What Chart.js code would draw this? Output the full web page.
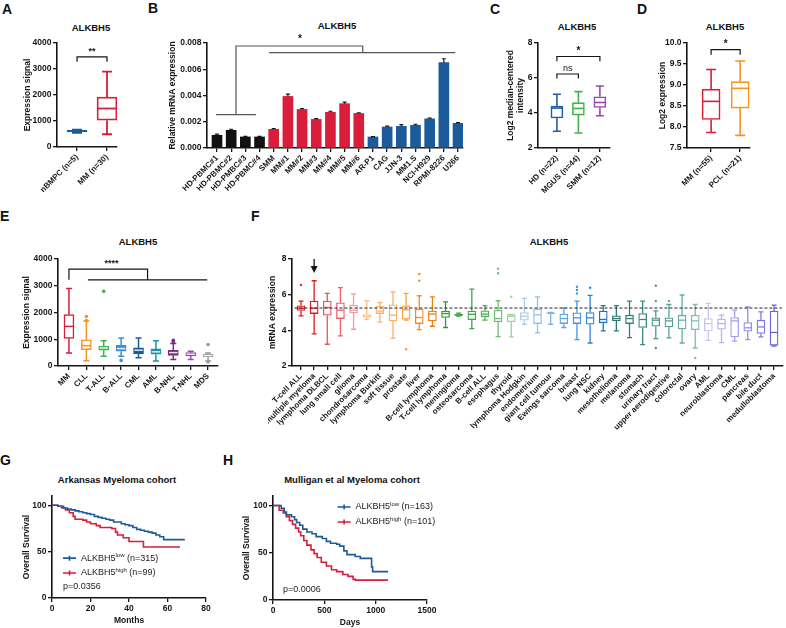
<!DOCTYPE html>
<html>
<head>
<meta charset="utf-8">
<script src="https://cdn.jsdelivr.net/npm/chart.js@4.4.1/dist/chart.umd.min.js"></script>
<style>
body { margin: 0; background: #fff; }
#page { position: relative; width: 786px; height: 628px; overflow: hidden; font-family: 'Liberation Sans', Arial, sans-serif; color: #111; }
.lab { position: absolute; font-weight: bold; font-size: 14px; line-height: 14px; }
.ttl { position: absolute; font-weight: bold; font-size: 9.5px; line-height: 10px; transform: translate(-50%, -50%); white-space: nowrap; }
canvas { position: absolute; }
</style>
</head>
<body>
<div id="page"></div>
<script>
const FONT = "'Liberation Sans', Arial, sans-serif";
const INK = '#151515';
const RED = '#d81e3a', BLUE = '#1c5b9b', ORANGE = '#f7941d', GREEN = '#3db54a', PURPLE = '#9b45b5';

// ---------- A: nBMPC vs MM ----------
const aCats = ['nBMPC (n=5)', 'MM (n=30)'];
const aMin = [545, 490];
const aQ1 = [585, 1030];
const aMed = [610, 1480];
const aQ3 = [640, 1920];
const aMax = [665, 2900];
const aTicks = [0, 1000, 2000, 3000, 4000];

// ---------- B: qPCR ----------
const bCats = ['HD-PBMC#1', 'HD-PBMC#2', 'HD-PMBC#3', 'HD-PBMC#4', 'SMM', 'MM#1', 'MM#2', 'MM#3', 'MM#4', 'MM#5', 'MM#6',
  'AR-P1', 'CAG', 'JJN-3', 'MM1.S', 'NCI-H929', 'RPMI-8226', 'U266'];
const bVals = [0.00097, 0.00135, 0.00084, 0.00084, 0.00142, 0.00393, 0.00294, 0.00218, 0.00272, 0.00338, 0.00263,
  0.00084, 0.0016, 0.00165, 0.00173, 0.00222, 0.0065, 0.00188];
const bErr = [0.00009, 0.00008, 0.00005, 0.00005, 0.00005, 0.00018, 0.00007, 0.00006, 0.00008, 0.00012, 0.00005,
  0.00003, 0.00006, 0.00013, 0.00008, 0.00006, 0.0003, 0.00005];
const bTicks = [0, 0.002, 0.004, 0.006, 0.008];

// ---------- C: HD / MGUS / SMM ----------
const cCats = ['HD (n=22)', 'MGUS (n=44)', 'SMM (n=12)'];
const cMin = [2.96, 2.86, 3.84];
const cQ1 = [3.72, 3.88, 4.32];
const cMed = [4.28, 4.26, 4.6];
const cQ3 = [4.39, 4.59, 4.93];
const cMax = [5.07, 5.22, 5.54];
const cTicks = [2, 4, 6, 8];

// ---------- D: MM / PCL ----------
const dCats = ['MM (n=55)', 'PCL (n=21)'];
const dMin = [7.87, 7.8];
const dQ1 = [8.18, 8.45];
const dMed = [8.61, 8.92];
const dQ3 = [8.9, 9.08];
const dMax = [9.37, 9.57];
const dTicks = [7.5, 8.0, 8.5, 9.0, 9.5, 10.0];

// ---------- E: hematologic malignancies ----------
const eCats = ['MM', 'CLL', 'T-ALL', 'B-ALL', 'CML', 'AML', 'B-NHL', 'T-NHL', 'MDS'];
const eMin = [490, 200, 360, 360, 310, 190, 240, 240, 190];
const eQ1 = [1030, 615, 590, 550, 465, 440, 400, 375, 340];
const eMed = [1480, 760, 675, 650, 590, 530, 500, 440, 390];
const eQ3 = [1920, 980, 740, 775, 675, 640, 590, 500, 440];
const eMax = [2900, 1680, 940, 1050, 1050, 940, 840, 550, 490];
const eOutIdx = [1, 1, 2, 3, 6, 6, 8, 8];
const eOutVal = [1850, 1700, 2790, 210, 960, 900, 800, 150];
const eColors = [RED, ORANGE, GREEN, '#3a8fdd', BLUE, '#1a93a8', '#7a2d80', PURPLE, '#9a9a9a'];

// ---------- F: cancer cell lines ----------
const fCats = ['T-cell ALL', 'multiple myeloma', 'lymphoma DLBCL', 'lung small cell', 'glioma', 'chondrosarcoma',
  'lymphoma Burkitt', 'soft tissue', 'prostate', 'liver', 'B-cell lymphoma', 'T-cell lymphoma', 'meningioma',
  'osteosarcoma', 'B-cell ALL', 'esophagus', 'thyroid', 'lymphoma Hodgkin', 'endometrium', 'giant cell tumour',
  'Ewings sarcoma', 'breast', 'lung NSC', 'kidney', 'mesothelioma', 'melanoma', 'stomach', 'urinary tract',
  'upper aerodigestive', 'colorectal', 'ovary', 'AML', 'neuroblastoma', 'CML', 'pancreas', 'bile duct', 'medulloblastoma'];
const fMin = [4.81, 3.80, 3.22, 3.69, 4.06, 4.61, 4.46, 3.56, 4.57, 4.04, 4.23, 4.16, 4.80, 4.10, 4.57, 3.65, 3.63, 4.34,
  3.86, 4.34, 4.16, 3.48, 3.29, 3.97, 3.97, 3.59, 3.20, 3.54, 3.58, 3.29, 3.01, 3.44, 3.31, 3.39, 3.48, 3.63, 3.11];
const fQ1 = [5.11, 4.94, 4.85, 4.66, 4.98, 4.74, 4.94, 4.53, 4.63, 4.38, 4.53, 4.72, 4.83, 4.60, 4.76, 4.48, 4.49, 4.57,
  4.38, 4.93, 4.38, 4.38, 4.34, 4.42, 4.53, 4.38, 4.16, 4.23, 4.19, 4.08, 4.04, 3.97, 4.06, 3.63, 3.95, 3.82, 3.16];
const fMed = [5.24, 5.24, 5.28, 5.13, 5.13, 4.79, 5.08, 4.85, 5.15, 4.72, 4.91, 4.94, 4.86, 4.90, 4.91, 4.66, 4.79, 4.79,
  4.87, 4.96, 4.66, 4.70, 4.70, 4.61, 4.66, 4.66, 4.61, 4.57, 4.53, 4.57, 4.53, 4.38, 4.38, 4.53, 4.14, 4.19, 3.88];
const fQ3 = [5.38, 5.64, 5.64, 5.54, 5.41, 4.89, 5.36, 5.43, 5.38, 5.19, 5.08, 5.08, 4.90, 5.08, 5.09, 5.13, 4.89, 5.00,
  5.19, 4.98, 4.91, 4.98, 5.00, 5.08, 4.81, 4.85, 4.94, 4.70, 4.70, 4.85, 4.85, 4.66, 4.63, 4.72, 4.44, 4.57, 5.08];
const fMax = [5.64, 6.78, 6.07, 6.39, 6.05, 5.66, 5.56, 6.16, 6.07, 5.94, 5.88, 5.60, 4.96, 6.31, 5.38, 5.66, 4.90, 5.79,
  5.88, 5.00, 5.26, 5.64, 5.96, 5.38, 5.39, 5.64, 5.64, 5.09, 5.45, 5.98, 5.45, 5.51, 4.85, 5.13, 5.32, 5.04, 5.41];
const fOutIdx = [0, 8, 9, 9, 15, 15, 16, 21, 21, 21, 22, 27, 27, 27, 28, 30];
const fOutVal = [6.55, 2.94, 7.16, 6.78, 7.46, 7.2, 5.88, 6.44, 6.26, 6.07, 6.39, 6.5, 5.64, 3.01, 5.64, 2.45];
const fRef = 5.25;
const fColors = ['#e31a1c', '#e31a1c', '#f0505a', '#ef5f6c', '#f49aa3', '#fdc08a', '#fdb46b', '#fcae63', '#f99d3a',
  '#f68b1f', '#f07f12', '#2c9b3b', '#35a043', '#3aaa45', '#48b050', '#6cc070', '#9ad49a', '#a9cdf0', '#8fbff0',
  '#78b2ec', '#5fa3e6', '#4592de', '#2f83d8', '#1f70cc', '#2c7a73', '#357f78', '#3e8a82', '#4a968d', '#58a199',
  '#66aca4', '#7ebcb4', '#c9c5f2', '#b8b2ef', '#a79fec', '#958dea', '#8179e8', '#6b62e4'];

// ---------- G / H: survival ----------
const gLowT = [0, 3, 6, 8, 10, 12, 14, 16, 18, 20, 22, 24, 26, 28, 30, 32, 36, 38, 40, 42, 44, 46, 48, 50, 52, 54, 56, 58, 69];
const gLowS = [100, 99, 97, 96, 95, 94, 93, 92, 91, 90, 88, 87, 86, 85, 84, 82, 80, 79, 78, 76, 74, 73, 72, 71, 70, 68, 66, 63, 63];
const gHighT = [0, 3, 5, 7, 9, 11, 12, 16, 18, 20, 23, 25, 31, 33, 34, 37, 40, 47.5, 66.5];
const gHighS = [100, 99, 97, 95, 92, 88, 85, 84, 82, 80, 78, 76, 75, 71, 68, 65, 61, 55, 55];
const hLowT = [0, 60, 80, 110, 130, 180, 210, 230, 260, 290, 330, 380, 420, 480, 520, 560, 620, 650, 690, 720, 800, 850, 950, 960, 970, 1120];
const hLowS = [100, 100, 97, 93, 90, 88, 85, 82, 79, 75, 72, 70, 67, 65, 62, 60, 59, 57, 52, 48, 46, 44, 44, 35, 30, 30];
const hHighT = [0, 55, 60, 100, 130, 160, 190, 220, 250, 270, 300, 330, 370, 400, 430, 470, 520, 570, 620, 680, 730, 780, 800, 1120];
const hHighS = [100, 100, 95, 92, 88, 84, 80, 76, 72, 68, 63, 58, 53, 49, 45, 40, 36, 32, 30, 27, 25, 22, 21, 21];
const gN = [315, 99];
const hN = [163, 101];
const kmSup = ['low', 'high'];
const kmYTicks = [0, 50, 100];
const gXTicks = [0, 20, 40, 60, 80];
const hXTicks = [0, 500, 1000, 1500];

// ---------- layout helpers ----------
Chart.defaults.font.family = FONT;
Chart.defaults.color = INK;
Chart.defaults.animation = false;

const PAD_T = 10, PAD_R = 10;
const page = document.getElementById('page');
const extrasById = {};

function addDiv(cls, text, x, y) {
  const d = document.createElement('div');
  d.className = cls;
  d.textContent = text;
  d.style.left = x + 'px';
  d.style.top = y + 'px';
  page.appendChild(d);
}

function makeCanvas(id, area, yW, xH) {
  const c = document.createElement('canvas');
  c.id = id;
  c.width = area.r - area.l + yW + PAD_R;
  c.height = area.b - area.t + PAD_T + xH;
  c.style.left = (area.l - yW) + 'px';
  c.style.top = (area.t - PAD_T) + 'px';
  page.appendChild(c);
  return c;
}

function axisBase(ticks, fmt, size) {
  return {
    afterBuildTicks: s => { s.ticks = ticks.map(v => ({ value: v })); },
    ticks: { autoSkip: false, font: { family: FONT, size: size || 8.5, weight: 'bold' }, color: INK, padding: 1.5, callback: fmt },
    grid: { drawOnChartArea: false, drawTicks: true, tickLength: 4, color: INK, lineWidth: 1.3, offset: false },
    border: { display: true, color: INK, width: 1.6 }
  };
}
function axisTitle(text) {
  return { display: true, text: text, font: { family: FONT, size: 8.5, weight: 'bold', lineHeight: 1.15 }, color: INK, padding: 0 };
}
function yAxis(min, max, ticks, fmt, title, yW) {
  return Object.assign(axisBase(ticks, fmt), {
    type: 'linear', min: min, max: max, title: axisTitle(title),
    afterFit: s => { s.width = yW; }
  });
}
function xCat(cats, min, max, xH, size) {
  const a = axisBase(cats.map((c, i) => i), v => cats[v], size);
  a.ticks.minRotation = 45;
  a.ticks.maxRotation = 45;
  return Object.assign(a, { type: 'linear', min: min, max: max, offset: false, afterFit: s => { s.height = xH; } });
}
function xNum(min, max, ticks, title, xH) {
  return Object.assign(axisBase(ticks, v => String(v)), {
    type: 'linear', min: min, max: max, title: axisTitle(title), afterFit: s => { s.height = xH; }
  });
}
function baseOptions(scales) {
  return {
    responsive: false,
    animation: false,
    layout: { padding: { top: PAD_T, right: PAD_R, left: 0, bottom: 0 } },
    plugins: { legend: { display: false }, tooltip: { enabled: false } },
    scales: scales
  };
}
function boxDataset(n, q1, q3, colors, fills, lw, width) {
  const data = [];
  for (let i = 0; i < n; i++) data.push({ x: i, y: [q1[i], q3[i]] });
  return { type: 'bar', data: data, backgroundColor: fills, borderColor: colors, borderWidth: lw,
    borderSkipped: false, barThickness: width, grouped: false };
}
function outlierDataset(idx, vals, colors, r) {
  return { type: 'scatter', data: idx.map((i, k) => ({ x: i, y: vals[k] })), pointRadius: r,
    pointBackgroundColor: idx.map(i => colors[i]), pointBorderWidth: 0 };
}
function kmDataset(t, s, color) {
  return { type: 'scatter', data: t.map((v, i) => ({ x: v, y: s[i] })), showLine: true, stepped: true,
    borderColor: color, borderWidth: 1.6, pointRadius: 0 };
}

// whiskers, medians, brackets, labels, error bars, legends
const extras = {
  id: 'extras',
  afterDatasetsDraw(chart) {
    const o = extrasById[chart.canvas.id];
    if (!o) return;
    const ctx = chart.ctx, xs = chart.scales.x, ys = chart.scales.y;
    const X = v => xs.getPixelForValue(v), Y = v => ys.getPixelForValue(v);
    ctx.save();
    if (o.box) {
      const b = o.box;
      b.med.forEach((m, i) => {
        const px = X(i), cw = b.cap / 2, hw = b.width / 2;
        ctx.strokeStyle = b.colors[i];
        ctx.lineWidth = b.lw;
        ctx.beginPath();
        ctx.moveTo(px, Y(b.q3[i])); ctx.lineTo(px, Y(b.max[i]));
        ctx.moveTo(px - cw, Y(b.max[i])); ctx.lineTo(px + cw, Y(b.max[i]));
        ctx.moveTo(px, Y(b.q1[i])); ctx.lineTo(px, Y(b.min[i]));
        ctx.moveTo(px - cw, Y(b.min[i])); ctx.lineTo(px + cw, Y(b.min[i]));
        ctx.stroke();
        ctx.strokeStyle = b.medColors ? b.medColors[i] : b.colors[i];
        ctx.beginPath();
        ctx.moveTo(px - hw + b.lw / 2, Y(m)); ctx.lineTo(px + hw - b.lw / 2, Y(m));
        ctx.stroke();
      });
    }
    if (o.err) {
      const e = o.err;
      ctx.strokeStyle = INK;
      ctx.lineWidth = 1.2;
      e.vals.forEach((v, i) => {
        const px = X(i), top = Y(v + e.errs[i]);
        ctx.beginPath();
        ctx.moveTo(px, Y(v)); ctx.lineTo(px, top);
        ctx.moveTo(px - e.cap / 2, top); ctx.lineTo(px + e.cap / 2, top);
        ctx.stroke();
      });
    }
    (o.lines || []).forEach(l => {
      ctx.beginPath();
      ctx.strokeStyle = l.color || INK;
      ctx.lineWidth = l.lw || 1.2;
      ctx.setLineDash(l.dash || []);
      l.pts.forEach((p, k) => k ? ctx.lineTo(X(p[0]), Y(p[1])) : ctx.moveTo(X(p[0]), Y(p[1])));
      ctx.stroke();
      ctx.setLineDash([]);
    });
    (o.arrows || []).forEach(a => {
      const px = X(a.x), y1 = Y(a.from), y2 = Y(a.to);
      ctx.strokeStyle = INK; ctx.fillStyle = INK; ctx.lineWidth = 1.3;
      ctx.beginPath(); ctx.moveTo(px, y1); ctx.lineTo(px, y2 - 5); ctx.stroke();
      ctx.beginPath(); ctx.moveTo(px - 3.5, y2 - 7); ctx.lineTo(px + 3.5, y2 - 7); ctx.lineTo(px, y2); ctx.closePath(); ctx.fill();
    });
    (o.texts || []).forEach(t => {
      ctx.font = t.font;
      ctx.fillStyle = t.color || INK;
      ctx.textAlign = t.align || 'center';
      ctx.textBaseline = 'middle';
      ctx.fillText(t.text, X(t.x), Y(t.y));
    });
    if (o.km) {
      const k = o.km;
      k.ys.forEach((yv, i) => {
        const px = X(k.x), py = Y(yv);
        ctx.strokeStyle = k.colors[i]; ctx.lineWidth = 1.6;
        ctx.beginPath();
        ctx.moveTo(px, py); ctx.lineTo(px + 13, py);
        ctx.moveTo(px + 6.5, py - 2.5); ctx.lineTo(px + 6.5, py + 2.5);
        ctx.stroke();
        ctx.fillStyle = '#222';
        ctx.textAlign = 'left';
        ctx.textBaseline = 'middle';
        let tx = px + 18;
        ctx.font = '9px ' + FONT;
        ctx.fillText('ALKBH5', tx, py);
        tx += ctx.measureText('ALKBH5').width;
        ctx.font = '6px ' + FONT;
        ctx.fillText(k.sups[i], tx, py - 3);
        tx += ctx.measureText(k.sups[i]).width;
        ctx.font = '9px ' + FONT;
        ctx.fillText(' (n=' + k.ns[i] + ')', tx, py);
      });
    }
    ctx.restore();
  }
};
Chart.register(extras);

const white = n => new Array(n).fill('#ffffff');
const BOLD = s => 'bold ' + s + 'px ' + FONT;

// ---------- panel letters and titles ----------
[['A', 2, 2], ['B', 148, 1], ['C', 490, 2], ['D', 637, 2], ['E', 0, 209], ['F', 251, 209], ['G', 0, 453], ['H', 223, 453]]
  .forEach(l => addDiv('lab', l[0], l[1], l[2]));
[['ALKBH5', 91, 28], ['ALKBH5', 337, 26], ['ALKBH5', 577, 27], ['ALKBH5', 725, 27], ['ALKBH5', 138, 242],
  ['ALKBH5', 549, 242], ['Arkansas Myeloma cohort', 117, 480], ['Mulligan et al Myeloma cohort', 352, 480]]
  .forEach(t => addDiv('ttl', t[0], t[1], t[2]));

// ---------- A ----------
(function () {
  const cv = makeCanvas('cA', { l: 57, t: 43, r: 117, b: 147 }, 34, 45);
  const colors = [BLUE, RED];
  extrasById.cA = {
    box: { min: aMin, q1: aQ1, med: aMed, q3: aQ3, max: aMax, colors: colors, lw: 1.8, width: 20, cap: 10 },
    lines: [{ pts: [[0, 3280], [0, 3470], [1, 3470], [1, 3280]] }],
    texts: [{ x: 0.5, y: 3680, text: '**', font: BOLD(9) }]
  };
  new Chart(cv, {
    type: 'bar',
    data: { datasets: [boxDataset(2, aQ1, aQ3, colors, [BLUE, '#ffffff'], 1.8, 20)] },
    options: baseOptions({
      x: xCat(aCats, -0.667, 1.333, 45, 8),
      y: yAxis(0, 4000, aTicks, v => String(v), 'Expression signal', 34)
    })
  });
})();

// ---------- B ----------
(function () {
  const colors = bCats.map((c, i) => i < 4 ? '#111111' : (i < 11 ? RED : BLUE));
  const cv = makeCanvas('cB', { l: 207, t: 43, r: 463, b: 148 }, 39, 45);
  const G = '#555555';
  extrasById.cB = {
    err: { vals: bVals, errs: bErr, cap: 4 },
    lines: [
      { pts: [[-0.07, 0.00255], [2.75, 0.00255]], color: G },
      { pts: [[1.34, 0.00255], [1.34, 0.00777], [10.28, 0.00777], [10.28, 0.00726]], color: G },
      { pts: [[3.67, 0.00726], [16.8, 0.00726]], color: G }
    ],
    texts: [{ x: 5.85, y: 0.00828, text: '*', font: BOLD(10) }]
  };
  new Chart(cv, {
    type: 'bar',
    data: { datasets: [{ data: bVals.map((v, i) => ({ x: i, y: v })), backgroundColor: colors, barThickness: 10, grouped: false }] },
    options: baseOptions({
      x: xCat(bCats, -0.705, 17.35, 45, 8),
      y: yAxis(0, 0.008, bTicks, v => v.toFixed(3), 'Relative mRNA expression', 39)
    })
  });
})();

// ---------- C ----------
(function () {
  const colors = ['#1f5fa8', GREEN, PURPLE];
  const cv = makeCanvas('cC', { l: 538, t: 43, r: 610, b: 148 }, 32, 45);
  extrasById.cC = {
    box: { min: cMin, q1: cQ1, med: cMed, q3: cQ3, max: cMax, colors: colors, lw: 1.6, width: 12, cap: 8 },
    lines: [
      { pts: [[0, 5.97], [0, 6.23], [1, 6.23], [1, 5.97]] },
      { pts: [[0, 6.96], [0, 7.23], [2, 7.23], [2, 6.96]] }
    ],
    texts: [
      { x: 0.5, y: 6.55, text: 'ns', font: '9px ' + FONT },
      { x: 1, y: 7.52, text: '*', font: BOLD(10) }
    ]
  };
  new Chart(cv, {
    type: 'bar',
    data: { datasets: [boxDataset(3, cQ1, cQ3, colors, white(3), 1.6, 12)] },
    options: baseOptions({
      x: xCat(cCats, -0.88, 2.47, 45, 8),
      y: yAxis(2, 8, cTicks, v => String(v), ['Log2 median-centered', 'intensity'], 32)
    })
  });
})();

// ---------- D ----------
(function () {
  const colors = [RED, ORANGE];
  const cv = makeCanvas('cD', { l: 687, t: 43, r: 750, b: 148 }, 29, 45);
  extrasById.cD = {
    box: { min: dMin, q1: dQ1, med: dMed, q3: dQ3, max: dMax, colors: colors, lw: 1.6, width: 18, cap: 10 },
    lines: [{ pts: [[0, 9.72], [0, 9.84], [1, 9.84], [1, 9.72]] }],
    texts: [{ x: 0.5, y: 9.96, text: '*', font: BOLD(10) }]
  };
  new Chart(cv, {
    type: 'bar',
    data: { datasets: [boxDataset(2, dQ1, dQ3, colors, white(2), 1.6, 18)] },
    options: baseOptions({
      x: xCat(dCats, -0.83, 1.34, 45, 8),
      y: yAxis(7.5, 10, dTicks, v => v.toFixed(1), 'Log2 expression', 29)
    })
  });
})();

// ---------- E ----------
(function () {
  const cv = makeCanvas('cE', { l: 58, t: 259, r: 218, b: 366 }, 36, 32);
  const fills = eColors.map((c, i) => i < 2 ? '#ffffff' : c);
  const meds = eColors.map((c, i) => i < 2 ? c : 'rgba(255,255,255,0.85)');
  extrasById.cE = {
    box: { min: eMin, q1: eQ1, med: eMed, q3: eQ3, max: eMax, colors: eColors, medColors: meds, lw: 1.5, width: 10, cap: 6 },
    lines: [
      { pts: [[0, 3220], [0, 3620], [4.52, 3620], [4.52, 3220]] },
      { pts: [[1.09, 3220], [7.95, 3220]] }
    ],
    texts: [{ x: 2.45, y: 3820, text: '****', font: BOLD(9) }]
  };
  new Chart(cv, {
    type: 'bar',
    data: { datasets: [
      boxDataset(9, eQ1, eQ3, eColors, fills, 1.5, 10),
      outlierDataset(eOutIdx, eOutVal, eColors, 1.8)
    ] },
    options: baseOptions({
      x: xCat(eCats, -0.63, 8.57, 32, 8),
      y: yAxis(0, 4000, aTicks, v => String(v), 'Expression signal', 36)
    })
  });
})();

// ---------- F ----------
(function () {
  const cv = makeCanvas('cF', { l: 292, t: 259, r: 783, b: 366 }, 24, 80);
  const fills = fColors.map((c, i) => i === 12 ? c : '#ffffff');
  extrasById.cF = {
    box: { min: fMin, q1: fQ1, med: fMed, q3: fQ3, max: fMax, colors: fColors, lw: 1.3, width: 8, cap: 5 },
    lines: [{ pts: [[-0.5, fRef], [36.6, fRef]], dash: [3, 2], lw: 1, color: '#222' }],
    arrows: [{ x: 1, from: 8.0, to: 7.22 }]
  };
  new Chart(cv, {
    type: 'bar',
    data: { datasets: [
      boxDataset(37, fQ1, fQ3, fColors, fills, 1.3, 8),
      outlierDataset(fOutIdx, fOutVal, fColors, 1.2)
    ] },
    options: baseOptions({
      x: xCat(fCats, -0.685, 36.68, 80, 8),
      y: yAxis(2, 8, cTicks, v => String(v), 'mRNA expression', 24)
    })
  });
})();

// ---------- G ----------
(function () {
  const cv = makeCanvas('cG', { l: 52, t: 496, r: 206, b: 598 }, 30, 28);
  extrasById.cG = {
    km: { x: 5.7, ys: [43, 27], colors: [BLUE, RED], sups: kmSup, ns: gN },
    texts: [{ x: 5.7, y: 12, text: 'p=0.0356', font: '9px ' + FONT, color: '#222', align: 'left' }]
  };
  new Chart(cv, {
    type: 'scatter',
    data: { datasets: [kmDataset(gLowT, gLowS, BLUE), kmDataset(gHighT, gHighS, RED)] },
    options: baseOptions({
      x: xNum(0, 80, gXTicks, 'Months', 28),
      y: yAxis(0, 110, kmYTicks, v => String(v), 'Overall Survival', 30)
    })
  });
})();

// ---------- H ----------
(function () {
  const cv = makeCanvas('cH', { l: 273, t: 496, r: 428, b: 600 }, 31, 28);
  extrasById.cH = {
    km: { x: 629, ys: [98.4, 82.5], colors: [BLUE, RED], sups: kmSup, ns: hN },
    texts: [{ x: 97, y: 11.6, text: 'p=0.0006', font: '9px ' + FONT, color: '#222', align: 'left' }]
  };
  new Chart(cv, {
    type: 'scatter',
    data: { datasets: [kmDataset(hLowT, hLowS, BLUE), kmDataset(hHighT, hHighS, RED)] },
    options: baseOptions({
      x: xNum(0, 1500, hXTicks, 'Days', 28),
      y: yAxis(0, 110, kmYTicks, v => String(v), 'Overall Survival', 31)
    })
  });
})();
</script>
</body>
</html>
